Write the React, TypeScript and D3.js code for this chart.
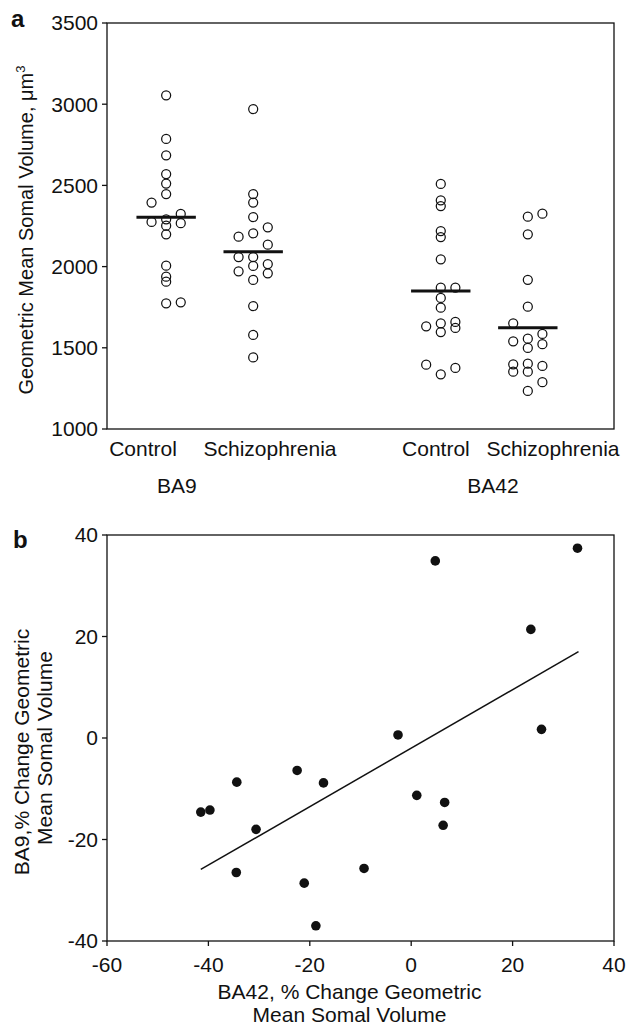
import React from "react";
import * as d3 from "d3";

// ---------- Panel a data ----------
const groupLabels = ["Control", "Schizophrenia", "Control", "Schizophrenia"];
const regionLabels = ["BA9", "BA42"];
const yTicksA = [1000, 1500, 2000, 2500, 3000, 3500];

const ba9Control = [3055, 2786, 2685, 2570, 2511, 2447, 2394, 2324, 2291, 2275, 2267, 2252, 2199, 2006, 1938, 1907, 1774, 1780];
const ba9ControlCol = [0, 0, 0, 0, 0, 0, -1, 1, 0, -1, 1, 0, 0, 0, 0, 0, 0, 1];
const ba9Schiz = [2970, 2447, 2394, 2305, 2242, 2184, 2205, 2135, 2059, 2059, 2016, 2004, 1971, 1959, 1918, 1757, 1579, 1441];
const ba9SchizCol = [0, 0, 0, 0, 1, -1, 0, 1, -1, 0, 1, 0, -1, 1, 0, 0, 0, 0];
const ba42Control = [2509, 2408, 2373, 2219, 2182, 2045, 1870, 1870, 1807, 1747, 1659, 1632, 1651, 1622, 1597, 1396, 1376, 1337];
const ba42ControlCol = [0, 0, 0, 0, 0, 0, 0, 1, 0, 0, 1, -1, 0, 1, 0, -1, 1, 0];
const ba42Schiz = [2307, 2326, 2199, 1919, 1753, 1651, 1585, 1556, 1540, 1522, 1499, 1398, 1402, 1388, 1353, 1353, 1288, 1234];
const ba42SchizCol = [0, 1, 0, 0, 0, -1, 1, 0, -1, 1, 0, -1, 0, 1, -1, 0, 1, 0];
const groupMeans = [2304, 2092, 1850, 1624];

// positions of groups / labels on the category axis (0..6)
const groupPos = [0.7, 1.73, 3.95, 4.98];
const groupLabelPos = [0.426, 1.929, 3.893, 5.278];
const regionLabelPos = [0.828, 4.568];

// ---------- Panel b data ----------
const xTicksB = [-60, -40, -20, 0, 20, 40];
const yTicksB = [-40, -20, 0, 20, 40];
const ba42Change = [-41.5, -39.7, -34.4, -30.6, -34.5, -22.5, -17.3, -21.1, -18.8, -9.3, -2.6, 1.1, 6.6, 6.3, 4.75, 23.6, 25.7, 32.8];
const ba9Change = [-14.6, -14.2, -8.7, -18.0, -26.5, -6.4, -8.85, -28.6, -37.0, -25.7, 0.6, -11.3, -12.7, -17.2, 34.9, 21.4, 1.7, 37.4];
const fitX = [-41.5, 33.0];
const fitY = [-25.9, 17.0];

const FONT = "'Liberation Sans', Arial, Helvetica, sans-serif";
const FS = 21;

export default function App() {
  // panel a frame
  const aL = 107, aR = 614, aT = 23, aB = 429;
  const xA = d3.scaleLinear().domain([0, 6]).range([aL, aR]);
  const yA = d3.scaleLinear().domain([1000, 3500]).range([aB, aT]);
  const colStep = 14.6;
  const meanHalf = 29.7;

  const series = [
    { v: ba9Control, c: ba9ControlCol },
    { v: ba9Schiz, c: ba9SchizCol },
    { v: ba42Control, c: ba42ControlCol },
    { v: ba42Schiz, c: ba42SchizCol },
  ];

  // panel b frame
  const bL = 107, bR = 614, bT = 535, bB = 941;
  const xB = d3.scaleLinear().domain([-60, 40]).range([bL, bR]);
  const yB = d3.scaleLinear().domain([-40, 40]).range([bB, bT]);
  const fitLine = d3.line<number>().x((d) => xB(fitX[d])).y((d) => yB(fitY[d]));

  const ink = "#111";

  return (
    <svg
      width={628}
      height={1028}
      style={{ position: "absolute", left: 0, top: 0, background: "#fff" }}
      fontFamily={FONT}
    >
      <rect x={0} y={0} width={628} height={1028} fill="#fff" />
      {/* ---------- Panel a ---------- */}
      <text x={11} y={27} fontSize={24} fontWeight="bold" fill={ink}>a</text>
      <rect x={aL} y={aT} width={aR - aL} height={aB - aT} fill="none" stroke={ink} strokeWidth={1.3} />
      {yTicksA.map((t) => (
        <g key={"ya" + t}>
          <line x1={aL - 5} x2={aL} y1={yA(t)} y2={yA(t)} stroke={ink} strokeWidth={1.3} />
          <text x={aL - 9} y={yA(t) + 7.4} fontSize={FS} textAnchor="end" fill={ink}>{t}</text>
        </g>
      ))}
      <text
        transform={`translate(33, 230) rotate(-90)`}
        fontSize={20}
        textAnchor="middle"
        fill={ink}
      >
        Geometric Mean Somal Volume, μm<tspan dy={-8} fontSize={13}>3</tspan>
      </text>
      {series.map((s, gi) =>
        s.v.map((v, i) => (
          <circle
            key={`a${gi}-${i}`}
            cx={xA(groupPos[gi]) + s.c[i] * colStep}
            cy={yA(v)}
            r={4.5}
            fill="none"
            stroke={ink}
            strokeWidth={1.25}
          />
        ))
      )}
      {groupMeans.map((m, gi) => (
        <line
          key={"m" + gi}
          x1={xA(groupPos[gi]) - meanHalf}
          x2={xA(groupPos[gi]) + meanHalf}
          y1={yA(m)}
          y2={yA(m)}
          stroke={ink}
          strokeWidth={3}
        />
      ))}
      {groupLabels.map((g, i) => (
        <text key={"gl" + i} x={xA(groupLabelPos[i])} y={456} fontSize={FS} textAnchor="middle" fill={ink}>{g}</text>
      ))}
      {regionLabels.map((g, i) => (
        <text key={"rl" + i} x={xA(regionLabelPos[i])} y={493} fontSize={FS} textAnchor="middle" fill={ink}>{g}</text>
      ))}

      {/* ---------- Panel b ---------- */}
      <text x={13} y={548} fontSize={24} fontWeight="bold" fill={ink}>b</text>
      <rect x={bL} y={bT} width={bR - bL} height={bB - bT} fill="none" stroke={ink} strokeWidth={1.3} />
      {yTicksB.map((t) => (
        <g key={"yb" + t}>
          <line x1={bL - 5} x2={bL} y1={yB(t)} y2={yB(t)} stroke={ink} strokeWidth={1.3} />
          <text x={bL - 9} y={yB(t) + 7.4} fontSize={FS} textAnchor="end" fill={ink}>{t}</text>
        </g>
      ))}
      {xTicksB.map((t) => (
        <g key={"xb" + t}>
          <line x1={xB(t)} x2={xB(t)} y1={bB} y2={bB + 5} stroke={ink} strokeWidth={1.3} />
          <text x={xB(t)} y={972} fontSize={FS} textAnchor="middle" fill={ink}>{t}</text>
        </g>
      ))}
      <text x={349.5} y={999} fontSize={FS} textAnchor="middle" fill={ink}>BA42, % Change Geometric</text>
      <text x={349.5} y={1021.5} fontSize={FS} textAnchor="middle" fill={ink}>Mean Somal Volume</text>
      <text transform={`translate(29, 752) rotate(-90)`} fontSize={FS} textAnchor="middle" fill={ink}>BA9,% Change Geometric</text>
      <text transform={`translate(52, 748) rotate(-90)`} fontSize={FS} textAnchor="middle" fill={ink}>Mean Somal Volume</text>
      <path d={fitLine([0, 1]) || ""} fill="none" stroke={ink} strokeWidth={1.5} />
      {ba42Change.map((x, i) => (
        <circle key={"b" + i} cx={xB(x)} cy={yB(ba9Change[i])} r={4.8} fill={ink} />
      ))}
    </svg>
  );
}
